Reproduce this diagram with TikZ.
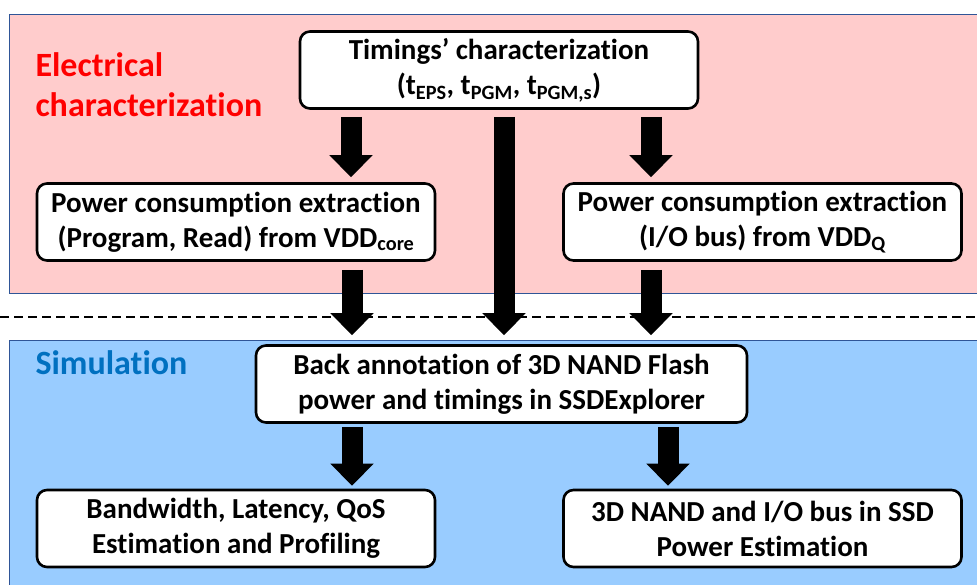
\documentclass[tikz,border=0pt]{standalone}
\usepackage{fontspec}
\setmainfont[Ligatures=NoCommon]{Carlito}
\definecolor{elecbg}{RGB}{255,204,204}
\definecolor{simbg}{RGB}{153,204,255}
\definecolor{frameblue}{RGB}{47,85,151}
\definecolor{elecred}{RGB}{255,0,0}
\definecolor{simblue}{RGB}{0,112,192}
\usetikzlibrary{arrows.meta, positioning}
\tikzset{
  stage/.style={rectangle, rounded corners=10pt,
    draw=black, fill=white, line width=2.6pt,
    minimum height=77pt, minimum width=398pt,
    inner sep=0pt, align=center,
    font=\fontsize{29}{35}\selectfont\bfseries},
  bigarrow/.style={-{Triangle[width=42pt,length=22pt]},
    line width=21pt, color=black},
  phase/.style={anchor=west, align=left,
    font=\fontsize{34}{40}\selectfont\bfseries},
}

\begin{document}
\begin{tikzpicture}[x=1pt, y=-1pt]
\useasboundingbox (0,0) rectangle (977,584);

% the two bands
\draw[frameblue, line width=0.8pt, fill=elecbg] (9,14) rectangle (990,293);
\draw[frameblue, line width=0.8pt, fill=simbg] (9,340) rectangle (990,600);
\draw[line width=2.6pt, dash pattern=on 9pt off 5pt] (0,317) -- (977,317);

\node[phase, text=elecred] (elec) at (32,85) {Electrical\\characterization};
\node[phase, text=simblue] (sim) at (32,363) {Simulation};

\node[stage] (timing) at (499,70)
  {Timings’ characterization\\(t\textsubscript{EPS}, t\textsubscript{PGM}, t\textsubscript{PGM,s})};
\node[stage] (pcore) at (236,222)
  {Power consumption extraction\\(Program, Read) from VDD\textsubscript{core}};
\node[stage] (pio) at (762.5,222)
  {Power consumption extraction\\(I/O bus) from VDD\textsubscript{Q}};
\node[stage, minimum width=491pt] (annot) at (501.5,384)
  {Back annotation of 3D NAND Flash\\power and timings in SSDExplorer};
\node[stage] (perf) at (236,528.5)
  {Bandwidth, Latency, QoS\\Estimation and Profiling};
\node[stage] (power) at (762.5,528.5)
  {3D NAND and I/O bus in SSD\\Power Estimation};

\foreach \x/\src/\dst/\gs/\gd in {
    351/timing/pcore/7/5, 651/timing/pio/7/5,
    504/timing/annot/7/9, 352/pcore/annot/8/9, 651/pio/annot/8/9,
    352/annot/perf/3/3, 668/annot/power/3/3}{
  \draw[bigarrow, shorten <=\gs pt, shorten >=\gd pt]
    (\x,0 |- \src.south) -- (\x,0 |- \dst.north);
}
\end{tikzpicture}
\end{document}
